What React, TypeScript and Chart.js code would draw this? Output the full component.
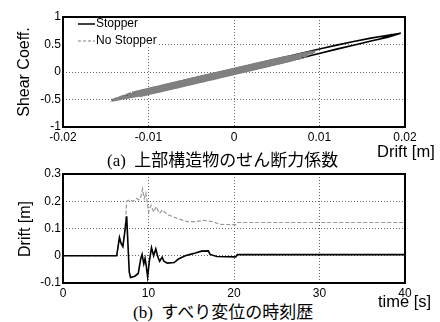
import React, { useEffect, useRef } from 'react';
import { Chart, registerables } from 'chart.js';
Chart.register(...registerables);

const SANS = "'Liberation Sans', Arial, sans-serif";
const CAPTION = "'Liberation Serif', 'Noto Sans CJK JP', serif";

// ---- (a) hysteresis ----
const seriesLabels = ['Stopper', 'No Stopper'];
const xTicksA = [-0.02, -0.01, 0, 0.01, 0.02];
const yTicksA = [-1, -0.5, 0, 0.5, 1];
const stopperDrift = [0, 0.004, 0.008, 0.012, 0.016, 0.0195, 0.018, 0.015, 0.012, 0.008, 0.004, 0, -0.007, -0.0143, -0.011, -0.005, 0, 0.006, 0.01, 0.014, 0.0185, 0.017, 0.013, 0.009, 0.004, 0];
const stopperShear = [0, 0.2, 0.345, 0.49, 0.62, 0.705, 0.63, 0.525, 0.42, 0.26, 0.11, -0.035, -0.29, -0.515, -0.35, -0.12, 0.055, 0.275, 0.415, 0.555, 0.685, 0.6, 0.45, 0.3, 0.12, -0.02];
const noStopDrift = [
  0, 0.004, 0.0095, 0.008, 0.004, 0, -0.006, -0.01, -0.0143,
  -0.012, -0.008, -0.004, 0, 0.004, 0.0085,
  0.007, 0.003, -0.002, -0.007, -0.0125,
  -0.01, -0.005, 0, 0.005, 0.009,
  0.007, 0.002, -0.004, -0.009, -0.0135,
  -0.011, -0.006, 0, 0.006, 0.0075,
  0.006, 0, -0.008, -0.011,
  -0.008, 0, 0.005,
  0.003, -0.006,
  -0.003, 0.003, 0.009,
  0.006, 0, -0.006, -0.0125,
  -0.008, -0.002, 0.004, 0.0088,
  0.005, -0.003, -0.0095, -0.0138,
  -0.009, 0, 0.008,
  0.004, -0.004, -0.011,
  -0.006, 0.002, 0.007,
];
const noStopShear = [
  0, 0.2, 0.37, 0.26, 0.11, -0.04, -0.26, -0.4, -0.51,
  -0.38, -0.23, -0.085, 0.06, 0.205, 0.35,
  0.22, 0.07, -0.11, -0.29, -0.47,
  -0.31, -0.12, 0.055, 0.24, 0.36,
  0.22, 0.035, -0.18, -0.37, -0.5,
  -0.34, -0.16, 0.05, 0.275, 0.31,
  0.18, -0.035, -0.33, -0.44,
  -0.23, 0.06, 0.24,
  0.07, -0.255,
  -0.05, 0.17, 0.355,
  0.19, -0.02, -0.23, -0.46,
  -0.26, -0.02, 0.19, 0.36,
  0.16, -0.13, -0.37, -0.5,
  -0.29, 0.03, 0.33,
  0.15, -0.14, -0.39,
  -0.2, 0.09, 0.27,
];

// ---- (b) time history ----
const xTicksB = [0, 10, 20, 30, 40];
const yTicksB = [-0.1, 0, 0.1, 0.2, 0.3];
const timeStopper = [0, 6.28, 6.6, 6.8, 7.0, 7.2, 7.45, 7.6, 7.75, 7.9, 8.4, 8.8, 9.1, 9.25, 9.45, 9.6, 9.75, 9.9, 10.1, 10.35, 10.6, 10.85, 11.1, 11.3, 11.6, 11.8, 12.2, 13.0, 13.5, 14.3, 15.0, 15.5, 16.2, 17.0, 17.2, 18.0, 20.2, 20.4, 40];
const driftStopper = [0, 0, 0.067, 0.045, 0.034, 0.08, 0.145, 0.04, -0.06, -0.08, -0.075, -0.065, -0.01, 0.005, -0.03, -0.01, -0.04, -0.078, -0.02, 0.03, 0.0, 0.025, -0.005, -0.02, -0.005, -0.02, -0.027, -0.025, -0.012, 0.0, 0.006, 0.01, 0.017, 0.018, 0.005, -0.003, -0.004, 0.004, 0.004];
const timeNoStop = [0, 6.28, 6.6, 6.8, 7.0, 7.2, 7.35, 7.45, 7.8, 8.2, 8.6, 8.9, 9.1, 9.3, 9.5, 9.7, 10.0, 10.3, 10.6, 10.9, 11.3, 11.6, 12.3, 13.3, 14.5, 15.5, 16.5, 17.5, 18.4, 20.2, 20.4, 40];
const driftNoStop = [0, 0, 0.067, 0.045, 0.034, 0.08, 0.15, 0.2, 0.205, 0.2, 0.21, 0.205, 0.215, 0.245, 0.21, 0.23, 0.16, 0.185, 0.16, 0.18, 0.155, 0.168, 0.15, 0.138, 0.125, 0.125, 0.13, 0.125, 0.115, 0.114, 0.122, 0.122];

const zip = (xs: number[], ys: number[]) => xs.map((x, i) => ({ x, y: ys[i] }));

const framePlugin = {
  id: 'frame',
  afterDraw(chart: any) {
    const { ctx, chartArea: a } = chart;
    ctx.save();
    ctx.strokeStyle = '#000';
    ctx.lineWidth = 2;
    ctx.strokeRect(a.left, a.top, a.right - a.left, a.bottom - a.top);
    ctx.restore();
  },
};

const insideLegend = {
  id: 'insideLegend',
  afterDatasetsDraw(chart: any) {
    const { ctx, chartArea: a } = chart;
    ctx.save();
    ctx.fillStyle = '#fff';
    ctx.fillRect(a.left + 1, a.top + 1, 94, 28);
    ctx.font = `12px ${SANS}`;
    ctx.textBaseline = 'middle';
    const items = seriesLabels.map((lbl) => chart.data.datasets.find((d: any) => d.label === lbl));
    items.forEach((d: any, i: number) => {
      const y = a.top + 7 + i * 17;
      ctx.strokeStyle = d.borderColor;
      ctx.lineWidth = d.label === 'Stopper' ? 1.5 : 1.2;
      ctx.setLineDash(d.borderDash ? [3, 2] : []);
      ctx.beginPath();
      ctx.moveTo(a.left + 15, y);
      ctx.lineTo(a.left + 32, y);
      ctx.stroke();
      ctx.setLineDash([]);
      ctx.fillStyle = '#000';
      ctx.fillText(d.label, a.left + 33, y);
    });
    ctx.restore();
  },
};

function axis(min: number, max: number, ticks: number[], isY: boolean) {
  return {
    type: 'linear',
    min,
    max,
    afterBuildTicks: (s: any) => {
      s.ticks = ticks.map((v) => ({ value: v }));
    },
    afterFit: (s: any) => {
      if (isY) s.width = 63;
      else s.height = 18;
    },
    grid: { color: '#666', lineWidth: 1, drawTicks: false },
    border: { display: false, dash: [1, 2] },
    ticks: {
      color: '#000',
      font: { family: SANS, size: 12 },
      padding: isY ? 2 : 3,
      callback: (v: number) => String(v),
    },
  };
}

function makeOptions(xa: any, ya: any): any {
  return {
    responsive: false,
    animation: false,
    layout: { padding: { top: 17, right: 35, left: 0, bottom: 0 } },
    plugins: { legend: { display: false }, tooltip: { enabled: false } },
    elements: { point: { radius: 0 }, line: { tension: 0 } },
    scales: { x: xa, y: ya },
  };
}

export default function App() {
  const refA = useRef<HTMLCanvasElement>(null);
  const refB = useRef<HTMLCanvasElement>(null);

  useEffect(() => {
    const chartA = new Chart(refA.current!, {
      type: 'scatter',
      data: {
        datasets: [
          {
            label: 'Stopper',
            data: zip(stopperDrift, stopperShear),
            showLine: true,
            borderColor: '#000',
            borderWidth: 1.4,
            order: 1,
          },
          {
            label: 'No Stopper',
            data: zip(noStopDrift, noStopShear),
            showLine: true,
            borderColor: '#808080',
            borderWidth: 2,
            borderDash: [6, 1],
            order: 0,
          },
        ],
      },
      options: makeOptions(axis(-0.02, 0.02, xTicksA, false), axis(-1, 1, yTicksA, true)),
      plugins: [insideLegend, framePlugin],
    } as any);

    const chartB = new Chart(refB.current!, {
      type: 'scatter',
      data: {
        datasets: [
          {
            label: 'Stopper',
            data: zip(timeStopper, driftStopper),
            showLine: true,
            borderColor: '#000',
            borderWidth: 1.6,
            order: 0,
          },
          {
            label: 'No Stopper',
            data: zip(timeNoStop, driftNoStop),
            showLine: true,
            borderColor: '#999',
            borderWidth: 1.2,
            borderDash: [4, 2],
            order: 1,
          },
        ],
      },
      options: makeOptions(axis(0, 40, xTicksB, false), axis(-0.1, 0.3, yTicksB, true)),
      plugins: [framePlugin],
    } as any);

    return () => {
      chartA.destroy();
      chartB.destroy();
    };
  }, []);

  const abs: React.CSSProperties = { position: 'absolute', whiteSpace: 'pre', lineHeight: 1, color: '#000' };

  return (
    <div style={{ position: 'absolute', left: 0, top: 0, width: 440, height: 322, background: '#fff', overflow: 'hidden' }}>
      <canvas ref={refA} width={440} height={145} style={{ position: 'absolute', left: 0, top: 0, width: 440, height: 145 }} />
      <canvas ref={refB} width={440} height={144} style={{ position: 'absolute', left: 0, top: 157, width: 440, height: 144 }} />
      <div style={{ ...abs, left: 24, top: 72, fontFamily: SANS, fontSize: 16, transform: 'translate(-50%, -50%) rotate(-90deg)' }}>Shear Coeff.</div>
      <div style={{ ...abs, left: 25, top: 229, fontFamily: SANS, fontSize: 16, transform: 'translate(-50%, -50%) rotate(-90deg)' }}>Drift [m]</div>
      <div style={{ ...abs, left: 377, top: 143, fontFamily: SANS, fontSize: 16.5 }}>Drift [m]</div>
      <div style={{ ...abs, left: 378, top: 293, fontFamily: SANS, fontSize: 16.5 }}>time [s]</div>
      <div style={{ ...abs, left: 107, top: 152, fontFamily: CAPTION, fontSize: 17 }}>(a)  上部構造物のせん断力係数</div>
      <div style={{ ...abs, left: 133, top: 304, fontFamily: CAPTION, fontSize: 17 }}>(b)  すべり変位の時刻歴</div>
    </div>
  );
}
